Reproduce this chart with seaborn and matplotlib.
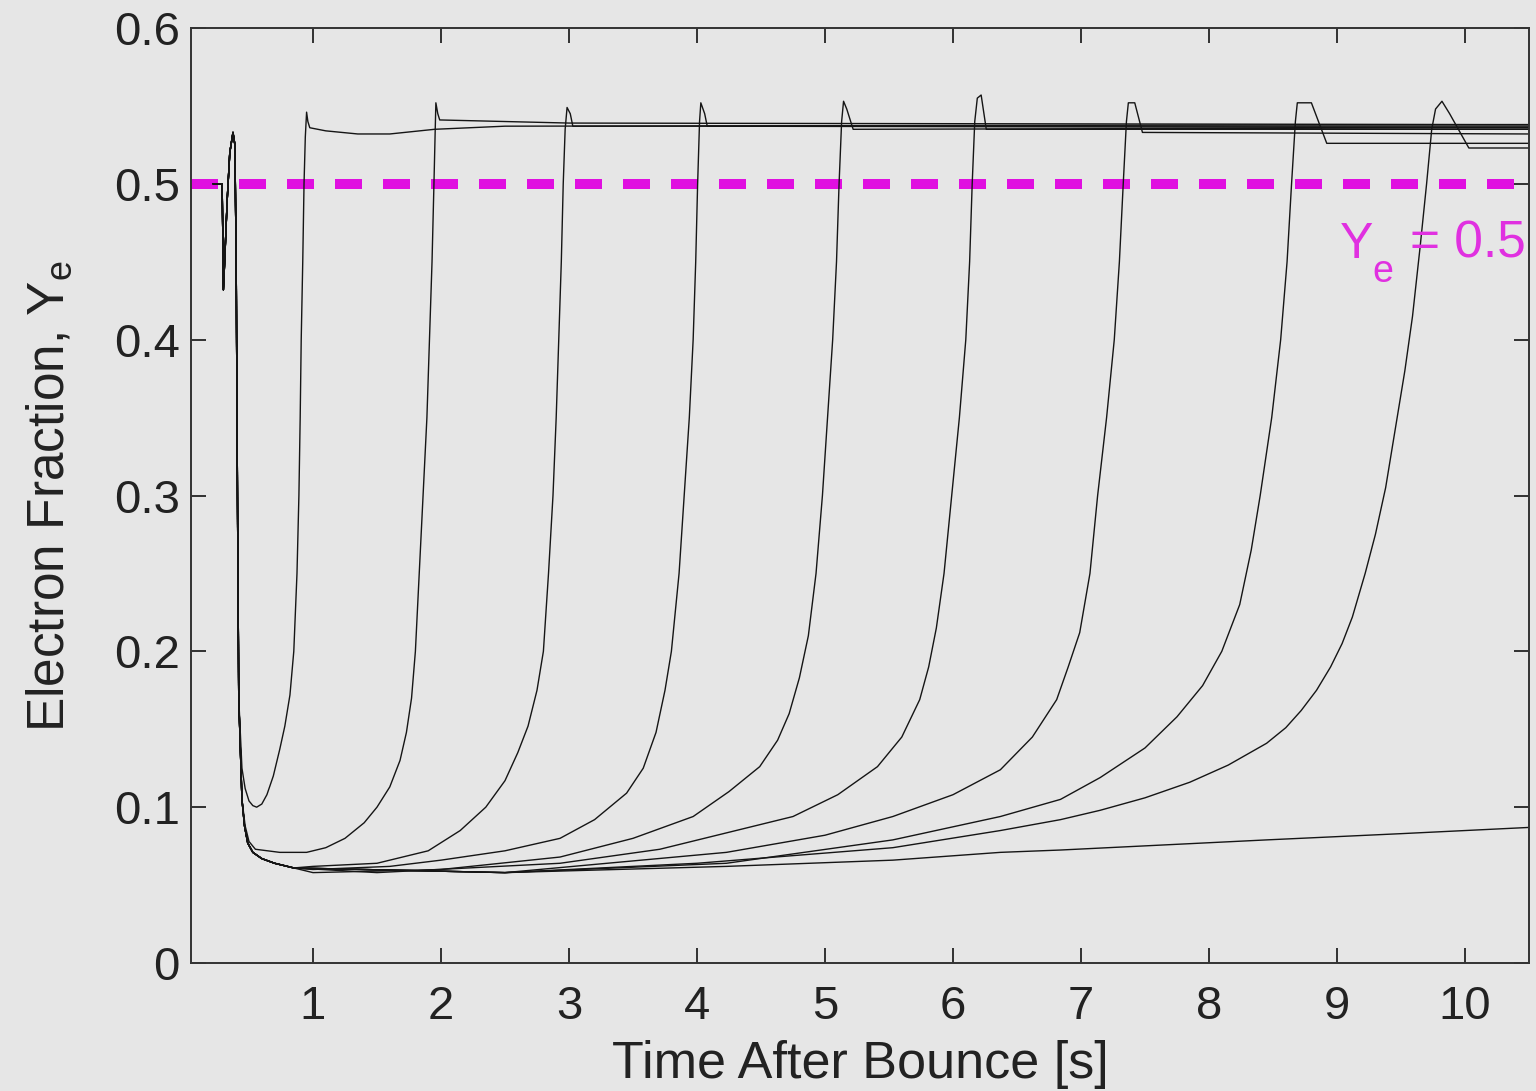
import numpy as np
import pandas as pd
import matplotlib
matplotlib.use("Agg")
import matplotlib.pyplot as plt
import seaborn as sns

# ---------------- data ----------------
t_early = [0.22, 0.29, 0.295, 0.30, 0.31, 0.33, 0.35, 0.375, 0.39, 0.40, 0.41, 0.42]
ye_early = [0.50, 0.50, 0.47, 0.432, 0.45, 0.49, 0.52, 0.533, 0.525, 0.45, 0.30, 0.17]

# low "bundle" segment shared by the runs that leave late
t_bundle = [0.445, 0.465, 0.49, 0.53, 0.6, 0.7, 0.85]
ye_bundle = [0.105, 0.088, 0.077, 0.071, 0.067, 0.064, 0.061]

t_run1 = [0.445, 0.47, 0.50, 0.53, 0.56, 0.60, 0.64, 0.69, 0.74, 0.78, 0.82, 0.85, 0.875, 0.89, 0.90, 0.908, 0.92, 0.93, 0.94, 0.95, 0.96, 0.975, 1.1, 1.35, 1.6, 1.95, 2.5, 10.5]
ye_run1 = [0.125, 0.112, 0.104, 0.101, 0.100, 0.102, 0.108, 0.120, 0.137, 0.152, 0.172, 0.20, 0.25, 0.30, 0.35, 0.40, 0.45, 0.50, 0.53, 0.546, 0.540, 0.536, 0.534, 0.532, 0.532, 0.535, 0.537, 0.538]

t_run2 = [0.445, 0.47, 0.50, 0.55, 0.74, 0.95, 1.1, 1.25, 1.4, 1.5, 1.6, 1.68, 1.73, 1.77, 1.80, 1.83, 1.86, 1.89, 1.91, 1.93, 1.945, 1.955, 1.96, 1.975, 1.99, 3.0, 10.5]
ye_run2 = [0.105, 0.088, 0.078, 0.073, 0.071, 0.071, 0.074, 0.080, 0.090, 0.100, 0.113, 0.130, 0.148, 0.170, 0.20, 0.25, 0.30, 0.35, 0.40, 0.45, 0.50, 0.535, 0.552, 0.545, 0.541, 0.539, 0.538]

t_run3 = [1.0, 1.5, 1.9, 2.15, 2.35, 2.5, 2.6, 2.68, 2.75, 2.80, 2.84, 2.875, 2.90, 2.92, 2.94, 2.955, 2.97, 2.985, 3.01, 3.03, 10.5]
ye_run3 = [0.062, 0.064, 0.072, 0.085, 0.100, 0.117, 0.135, 0.152, 0.175, 0.20, 0.25, 0.30, 0.35, 0.40, 0.45, 0.50, 0.535, 0.549, 0.545, 0.537, 0.537]

t_run4 = [1.0, 1.6, 2.0, 2.5, 2.93, 3.2, 3.45, 3.58, 3.68, 3.75, 3.80, 3.86, 3.90, 3.94, 3.97, 3.99, 4.005, 4.02, 4.03, 4.06, 4.08, 10.5]
ye_run4 = [0.060, 0.062, 0.066, 0.072, 0.080, 0.092, 0.109, 0.125, 0.148, 0.175, 0.20, 0.25, 0.30, 0.35, 0.40, 0.45, 0.50, 0.54, 0.552, 0.545, 0.537, 0.536]

t_run5 = [1.0, 2.0, 2.93, 3.5, 3.97, 4.25, 4.49, 4.63, 4.72, 4.80, 4.87, 4.93, 4.98, 5.02, 5.06, 5.09, 5.11, 5.13, 5.145, 5.17, 5.22, 10.5]
ye_run5 = [0.058, 0.060, 0.068, 0.080, 0.094, 0.110, 0.126, 0.143, 0.160, 0.183, 0.21, 0.25, 0.30, 0.35, 0.40, 0.45, 0.50, 0.54, 0.553, 0.548, 0.535, 0.536]

t_run6 = [1.5, 2.93, 3.71, 4.75, 5.1, 5.41, 5.6, 5.74, 5.81, 5.87, 5.93, 5.99, 6.05, 6.10, 6.13, 6.15, 6.17, 6.19, 6.22, 6.26, 10.5]
ye_run6 = [0.058, 0.064, 0.073, 0.094, 0.108, 0.126, 0.145, 0.169, 0.19, 0.215, 0.25, 0.30, 0.35, 0.40, 0.45, 0.50, 0.54, 0.555, 0.557, 0.535, 0.535]

t_run7 = [2.5, 4.23, 5.0, 5.53, 6.0, 6.37, 6.62, 6.81, 6.90, 6.99, 7.07, 7.13, 7.20, 7.26, 7.30, 7.33, 7.355, 7.37, 7.42, 7.48, 10.5]
ye_run7 = [0.058, 0.071, 0.082, 0.094, 0.108, 0.124, 0.145, 0.169, 0.19, 0.212, 0.25, 0.30, 0.35, 0.40, 0.45, 0.50, 0.54, 0.552, 0.552, 0.533, 0.532]

t_run8 = [2.5, 4.23, 5.53, 6.37, 6.84, 7.15, 7.5, 7.75, 7.95, 8.10, 8.24, 8.33, 8.40, 8.49, 8.56, 8.61, 8.645, 8.675, 8.69, 8.80, 8.92, 10.5]
ye_run8 = [0.058, 0.064, 0.079, 0.094, 0.105, 0.119, 0.138, 0.158, 0.178, 0.20, 0.23, 0.265, 0.30, 0.35, 0.40, 0.45, 0.50, 0.54, 0.552, 0.552, 0.526, 0.526]

t_run9 = [2.5, 4.0, 5.53, 6.37, 6.84, 7.15, 7.5, 7.85, 8.15, 8.45, 8.6, 8.72, 8.84, 8.95, 9.04, 9.12, 9.22, 9.30, 9.38, 9.46, 9.53, 9.59, 9.65, 9.70, 9.74, 9.77, 9.82, 9.88, 10.03, 10.5]
ye_run9 = [0.058, 0.064, 0.074, 0.085, 0.092, 0.098, 0.106, 0.116, 0.127, 0.141, 0.151, 0.162, 0.175, 0.19, 0.205, 0.222, 0.25, 0.275, 0.305, 0.345, 0.38, 0.415, 0.46, 0.50, 0.535, 0.548, 0.553, 0.545, 0.523, 0.523]

t_run10 = [2.5, 4.23, 5.53, 6.37, 6.84, 8.45, 9.5, 10.5]
ye_run10 = [0.058, 0.062, 0.066, 0.071, 0.0725, 0.079, 0.083, 0.087]

x_ticks = [1, 2, 3, 4, 5, 6, 7, 8, 9, 10]
y_ticks = [0, 0.1, 0.2, 0.3, 0.4, 0.5, 0.6]
y_ticklabels = ["0", "0.1", "0.2", "0.3", "0.4", "0.5", "0.6"]
ye_threshold = 0.5

runs = [
    (t_early + t_run1, ye_early + ye_run1),
    (t_early + t_run2, ye_early + ye_run2),
    (t_early + t_bundle + t_run3, ye_early + ye_bundle + ye_run3),
    (t_early + t_bundle + t_run4, ye_early + ye_bundle + ye_run4),
    (t_early + t_bundle + t_run5, ye_early + ye_bundle + ye_run5),
    (t_early + t_bundle + t_run6, ye_early + ye_bundle + ye_run6),
    (t_early + t_bundle + t_run7, ye_early + ye_bundle + ye_run7),
    (t_early + t_bundle + t_run8, ye_early + ye_bundle + ye_run8),
    (t_early + t_bundle + t_run9, ye_early + ye_bundle + ye_run9),
    (t_early + t_bundle + t_run10, ye_early + ye_bundle + ye_run10),
]

rows = []
for i, (tt, yy) in enumerate(runs):
    for a, b in zip(tt, yy):
        rows.append({"run": i, "t": a, "ye": b})
df = pd.DataFrame(rows)

# ---------------- style ----------------
bg = "#e6e6e6"
ink = "#222222"
magenta = "#e010e0"
sns.set_theme(style="ticks")
plt.rcParams["font.family"] = ["Liberation Sans", "DejaVu Sans"]
plt.rcParams["mathtext.fontset"] = "custom"
plt.rcParams["mathtext.rm"] = "Liberation Sans"
plt.rcParams["mathtext.it"] = "Liberation Sans"

fig = plt.figure(figsize=(15.36, 10.91), dpi=100, facecolor=bg)
ax = fig.add_axes([0.12435, 0.11732, 0.87109, 0.85701])
ax.set_facecolor(bg)

sns.lineplot(data=df, x="t", y="ye", units="run", estimator=None, sort=False,
             color="#151515", linewidth=1.0, ax=ax, legend=False)

ax.axhline(ye_threshold, color=magenta, linewidth=7.2, dashes=(2.7, 2.1), zorder=1)

# "Y_e = 0.5" label, built from pieces so the subscript sits low like the original
ax.text(9.02, 0.4525, "Y", color="#e030e0", fontsize=36, ha="left", va="baseline")
ax.text(9.28, 0.437, "e", color="#e030e0", fontsize=27, ha="left", va="baseline")
ax.text(9.57, 0.4525, "= 0.5", color="#e030e0", fontsize=37, ha="left", va="baseline")

ax.set_xlim(0.047, 10.5)
ax.set_ylim(0, 0.6)
ax.set_xticks(x_ticks)
ax.set_yticks(y_ticks)
ax.set_yticklabels(y_ticklabels)
ax.tick_params(axis="both", which="both", direction="in", top=True, right=True,
               length=11, width=1.3, color=ink, labelsize=34, labelcolor=ink)
ax.tick_params(axis="x", pad=16)
ax.tick_params(axis="y", pad=8)
for s in ax.spines.values():
    s.set_linewidth(1.4)
    s.set_color("#333333")
    s.set_visible(True)

ax.set_xlabel("Time After Bounce [s]", fontsize=37.5, color=ink, labelpad=8)
ax.set_ylabel(r"Electron Fraction, $\mathregular{Y_e}$", fontsize=37, color=ink, labelpad=28)

fig.savefig("out.png", dpi=100, facecolor=bg)
